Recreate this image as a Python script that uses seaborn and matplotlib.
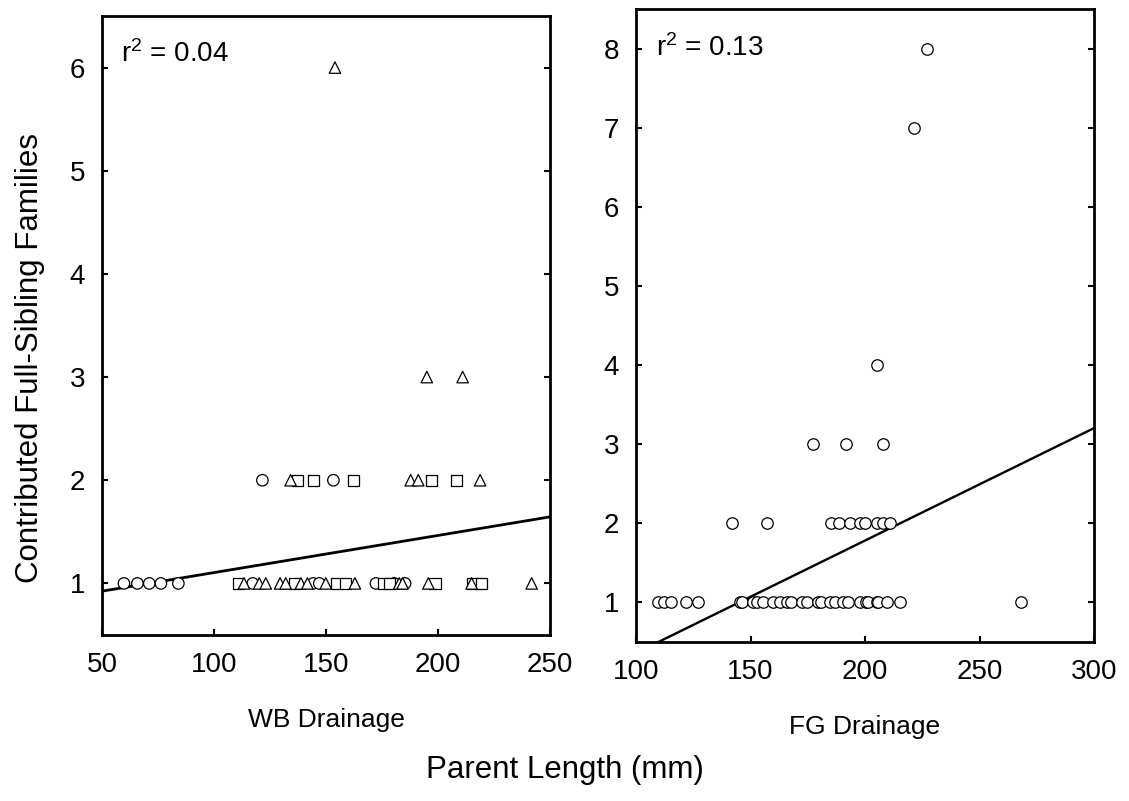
import numpy as np
import pandas as pd
import seaborn as sns
import matplotlib.pyplot as plt

# ---- WB drainage, three tributaries (circle / square / triangle) ----
wb_circ_x = [59.8, 65.8, 71.1, 76.3, 84.1, 117.3, 144.3, 147.0, 172.3, 180.4, 185.3, 121.6, 153.3]
wb_circ_y = [1, 1, 1, 1, 1, 1, 1, 1, 1, 1, 1, 2, 2]
wb_sq_x = [110.9, 136.2, 154.8, 158.8, 175.6, 178.3, 198.7, 215.5, 219.5, 137.2, 144.3, 162.2, 197.2, 208.3]
wb_sq_y = [1, 1, 1, 1, 1, 1, 1, 1, 1, 2, 2, 2, 2, 2]
wb_tri_x = [113.4, 120.2, 123.1, 129.5, 132.0, 138.8, 141.7, 149.9, 162.9, 182.7, 184.2, 195.7, 215.0, 241.8,
            134.2, 187.8, 191.2, 218.8, 195.0, 211.0, 154.0]
wb_tri_y = [1, 1, 1, 1, 1, 1, 1, 1, 1, 1, 1, 1, 1, 1,
            2, 2, 2, 2, 3, 3, 6]

# ---- FG drainage ----
fg_x = [109.5, 112.2, 115.3, 121.8, 126.9, 145.4, 146.4, 151.2, 152.7, 155.6, 159.7, 162.9, 165.8, 167.7,
        172.6, 174.5, 179.6, 180.6, 184.7, 186.9, 190.5, 192.7, 197.8, 200.3, 201.2, 205.1, 205.8, 209.8,
        215.3, 268.0,
        142.1, 157.1, 185.0, 188.5, 193.6, 197.9, 200.1, 205.4, 207.7, 210.9,
        177.4, 191.6, 207.7,
        205.4, 221.5, 226.9]
fg_y = [1] * 30 + [2] * 10 + [3] * 3 + [4, 7, 8]

# fitted lines (intercept, slope) and r^2 as printed on the panels
wb_fit = (0.745, 0.0036)
fg_fit = (-1.06, 0.01421)
wb_r2 = "0.04"
fg_r2 = "0.13"

wb = pd.concat([
    pd.DataFrame({"length": wb_circ_x, "families": wb_circ_y, "site": "A"}),
    pd.DataFrame({"length": wb_sq_x, "families": wb_sq_y, "site": "B"}),
    pd.DataFrame({"length": wb_tri_x, "families": wb_tri_y, "site": "C"}),
])
fg = pd.DataFrame({"length": fg_x, "families": fg_y})

sns.set_style("ticks")
plt.rcParams["font.family"] = ["Liberation Sans", "DejaVu Sans"]
plt.rcParams["mathtext.default"] = "regular"
plt.rcParams["text.color"] = "black"
plt.rcParams["axes.labelcolor"] = "black"

fig = plt.figure(figsize=(11.29, 8.01), dpi=100)
ax1 = fig.add_axes([102 / 1129, 1 - 635 / 801, 448 / 1129, 619 / 801])
ax2 = fig.add_axes([636 / 1129, 1 - 642 / 801, 458 / 1129, 633 / 801])

mk = dict(color="white", edgecolor="black", linewidth=0.9, s=68, legend=False, zorder=3)
sns.scatterplot(data=wb, x="length", y="families", style="site",
                markers={"A": "o", "B": "s", "C": "^"}, ax=ax1, **mk)
sns.scatterplot(data=fg, x="length", y="families", marker="o", ax=ax2, **mk)

wb_xlim = (50, 250)
fg_xlim = (100, 300)
xs = np.array(wb_xlim, dtype=float)
sns.lineplot(x=xs, y=wb_fit[0] + wb_fit[1] * xs, ax=ax1, color="black", linewidth=2.0)
xs = np.array(fg_xlim, dtype=float)
sns.lineplot(x=xs, y=fg_fit[0] + fg_fit[1] * xs, ax=ax2, color="black", linewidth=1.7)

for ax, xlim, ylim, yt, lab, r2 in [
    (ax1, wb_xlim, (0.5, 6.5), range(1, 7), "WB Drainage", wb_r2),
    (ax2, fg_xlim, (0.5, 8.5), range(1, 9), "FG Drainage", fg_r2),
]:
    ax.set_xlim(xlim)
    ax.set_ylim(ylim)
    ax.set_xticks(range(xlim[0], xlim[1] + 1, 50))
    ax.set_yticks(list(yt))
    ax.tick_params(direction="in", length=4, width=1.5, labelsize=20,
                   right=True, top=False, pad=12, colors="black")
    for sp in ax.spines.values():
        sp.set_visible(True)
        sp.set_linewidth(2.0)
        sp.set_color("black")
    ax.set_xlabel(lab, fontsize=19, labelpad=22)
    ax.set_ylabel("")
    ax.text(0.043, 0.926, r"$r^2$ = " + r2, transform=ax.transAxes,
            fontsize=20, va="baseline", ha="left")

fig.text(30 / 1129, 1 - 358 / 801, "Contributed Full-Sibling Families",
         rotation=90, fontsize=22.5, ha="center", va="center")
fig.text(0.5, 1 - 770 / 801, "Parent Length (mm)", fontsize=22.5, ha="center", va="center")

fig.savefig("out.png", dpi=100)
